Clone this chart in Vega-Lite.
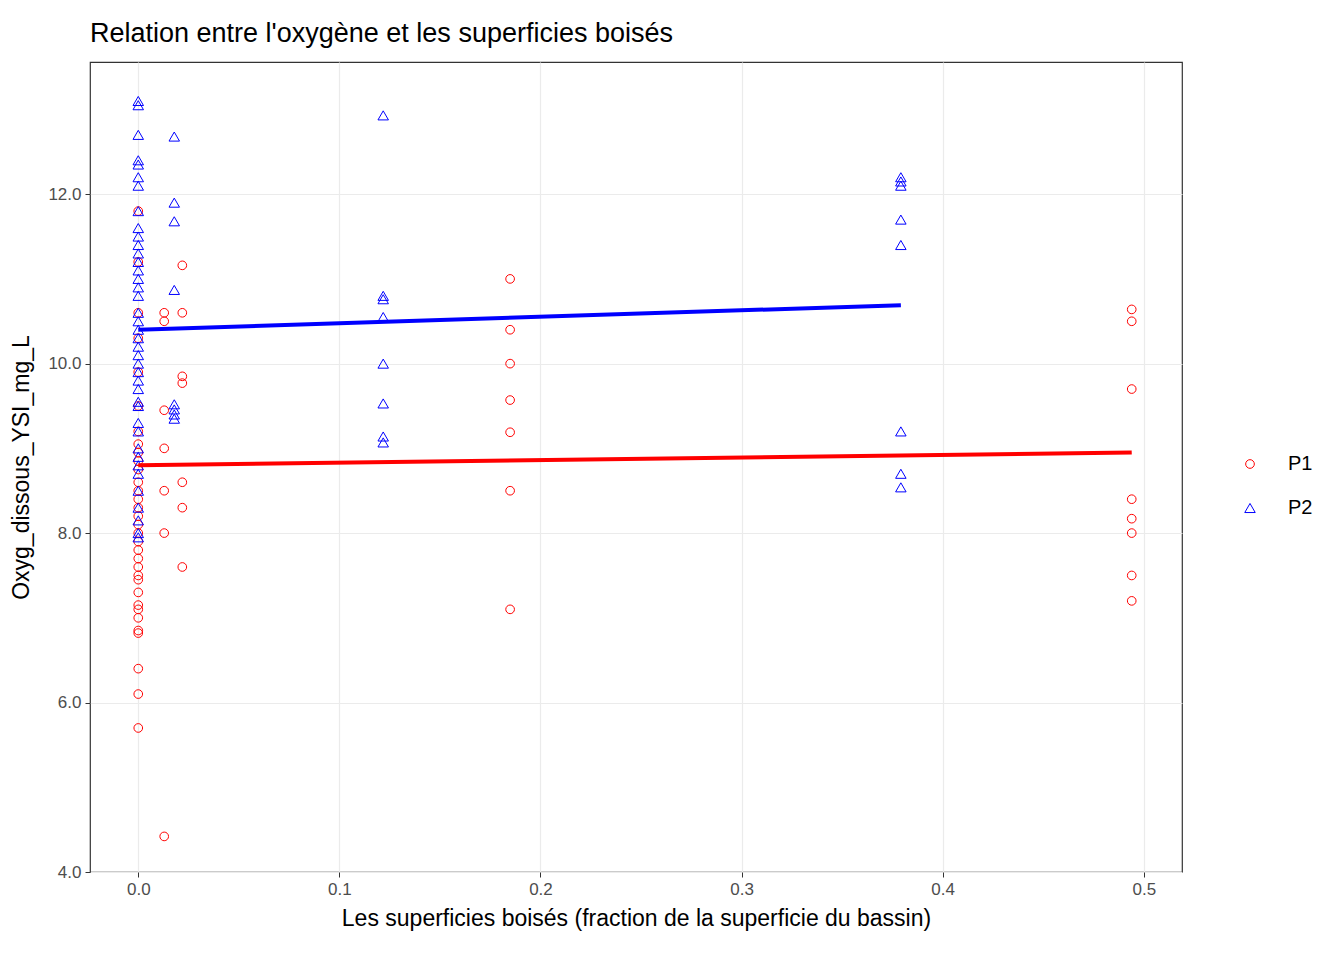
{
  "$schema": "https://vega.github.io/schema/vega-lite/v6.json",
  "autosize": "none",
  "width": 1092,
  "height": 810,
  "padding": {"left": 90, "top": 62, "right": 162, "bottom": 88},
  "background": "white",
  "title": {"text": "Relation entre l'oxygène et les superficies boisés", "anchor": "start", "frame": "group", "fontSize": 27, "font": "Arial", "fontWeight": "normal", "color": "black", "offset": 14},
  "datasets": {
    "pts": [
      {"x": 0, "y": 11.8, "g": "P1"}, {"x": 0, "y": 11.2, "g": "P1"}, {"x": 0, "y": 10.6, "g": "P1"}, {"x": 0, "y": 10.3, "g": "P1"}, {"x": 0, "y": 9.9, "g": "P1"}, {"x": 0, "y": 9.5, "g": "P1"}, {"x": 0, "y": 9.2, "g": "P1"},
      {"x": 0, "y": 9.05, "g": "P1"}, {"x": 0, "y": 8.95, "g": "P1"}, {"x": 0, "y": 8.85, "g": "P1"}, {"x": 0, "y": 8.75, "g": "P1"}, {"x": 0, "y": 8.6, "g": "P1"}, {"x": 0, "y": 8.5, "g": "P1"}, {"x": 0, "y": 8.4, "g": "P1"}, {"x": 0, "y": 8.3, "g": "P1"}, {"x": 0, "y": 8.2, "g": "P1"}, {"x": 0, "y": 8.1, "g": "P1"}, {"x": 0, "y": 8.0, "g": "P1"}, {"x": 0, "y": 7.9, "g": "P1"}, {"x": 0, "y": 7.8, "g": "P1"}, {"x": 0, "y": 7.7, "g": "P1"}, {"x": 0, "y": 7.6, "g": "P1"}, {"x": 0, "y": 7.5, "g": "P1"}, {"x": 0, "y": 7.45, "g": "P1"}, {"x": 0, "y": 7.3, "g": "P1"}, {"x": 0, "y": 7.15, "g": "P1"}, {"x": 0, "y": 7.1, "g": "P1"}, {"x": 0, "y": 7.0, "g": "P1"}, {"x": 0, "y": 6.85, "g": "P1"}, {"x": 0, "y": 6.82, "g": "P1"}, {"x": 0, "y": 6.4, "g": "P1"}, {"x": 0, "y": 6.1, "g": "P1"}, {"x": 0, "y": 5.7, "g": "P1"},
      {"x": 0.0129, "y": 10.6, "g": "P1"}, {"x": 0.0129, "y": 10.5, "g": "P1"}, {"x": 0.0129, "y": 9.45, "g": "P1"}, {"x": 0.0129, "y": 9.0, "g": "P1"}, {"x": 0.0129, "y": 8.5, "g": "P1"}, {"x": 0.0129, "y": 8.0, "g": "P1"}, {"x": 0.0129, "y": 4.42, "g": "P1"},
      {"x": 0.0219, "y": 11.16, "g": "P1"}, {"x": 0.0219, "y": 10.6, "g": "P1"}, {"x": 0.0219, "y": 9.85, "g": "P1"}, {"x": 0.0219, "y": 9.77, "g": "P1"}, {"x": 0.0219, "y": 8.6, "g": "P1"}, {"x": 0.0219, "y": 8.3, "g": "P1"}, {"x": 0.0219, "y": 7.6, "g": "P1"},
      {"x": 0.1849, "y": 11.0, "g": "P1"}, {"x": 0.1849, "y": 10.4, "g": "P1"}, {"x": 0.1849, "y": 10.0, "g": "P1"}, {"x": 0.1849, "y": 9.57, "g": "P1"}, {"x": 0.1849, "y": 9.19, "g": "P1"}, {"x": 0.1849, "y": 8.5, "g": "P1"}, {"x": 0.1849, "y": 7.1, "g": "P1"},
      {"x": 0.494, "y": 10.64, "g": "P1"}, {"x": 0.494, "y": 10.5, "g": "P1"}, {"x": 0.494, "y": 9.7, "g": "P1"}, {"x": 0.494, "y": 8.4, "g": "P1"}, {"x": 0.494, "y": 8.17, "g": "P1"}, {"x": 0.494, "y": 8.0, "g": "P1"}, {"x": 0.494, "y": 7.5, "g": "P1"}, {"x": 0.494, "y": 7.2, "g": "P1"},
      {"x": 0, "y": 13.1, "g": "P2"}, {"x": 0, "y": 13.05, "g": "P2"}, {"x": 0, "y": 12.7, "g": "P2"}, {"x": 0, "y": 12.4, "g": "P2"}, {"x": 0, "y": 12.35, "g": "P2"}, {"x": 0, "y": 12.2, "g": "P2"}, {"x": 0, "y": 12.1, "g": "P2"}, {"x": 0, "y": 11.8, "g": "P2"}, {"x": 0, "y": 11.6, "g": "P2"}, {"x": 0, "y": 11.5, "g": "P2"}, {"x": 0, "y": 11.4, "g": "P2"}, {"x": 0, "y": 11.3, "g": "P2"}, {"x": 0, "y": 11.2, "g": "P2"}, {"x": 0, "y": 11.1, "g": "P2"}, {"x": 0, "y": 11.0, "g": "P2"}, {"x": 0, "y": 10.9, "g": "P2"}, {"x": 0, "y": 10.8, "g": "P2"}, {"x": 0, "y": 10.6, "g": "P2"}, {"x": 0, "y": 10.5, "g": "P2"}, {"x": 0, "y": 10.4, "g": "P2"}, {"x": 0, "y": 10.3, "g": "P2"}, {"x": 0, "y": 10.2, "g": "P2"}, {"x": 0, "y": 10.1, "g": "P2"}, {"x": 0, "y": 10.0, "g": "P2"}, {"x": 0, "y": 9.9, "g": "P2"}, {"x": 0, "y": 9.8, "g": "P2"}, {"x": 0, "y": 9.7, "g": "P2"}, {"x": 0, "y": 9.55, "g": "P2"}, {"x": 0, "y": 9.5, "g": "P2"}, {"x": 0, "y": 9.3, "g": "P2"}, {"x": 0, "y": 9.2, "g": "P2"}, {"x": 0, "y": 9.0, "g": "P2"}, {"x": 0, "y": 8.9, "g": "P2"}, {"x": 0, "y": 8.8, "g": "P2"}, {"x": 0, "y": 8.7, "g": "P2"}, {"x": 0, "y": 8.5, "g": "P2"}, {"x": 0, "y": 8.3, "g": "P2"}, {"x": 0, "y": 8.15, "g": "P2"}, {"x": 0, "y": 8.0, "g": "P2"}, {"x": 0, "y": 7.95, "g": "P2"},
      {"x": 0.0179, "y": 12.68, "g": "P2"}, {"x": 0.0179, "y": 11.9, "g": "P2"}, {"x": 0.0179, "y": 11.68, "g": "P2"}, {"x": 0.0179, "y": 10.87, "g": "P2"}, {"x": 0.0179, "y": 9.52, "g": "P2"}, {"x": 0.0179, "y": 9.46, "g": "P2"}, {"x": 0.0179, "y": 9.4, "g": "P2"}, {"x": 0.0179, "y": 9.35, "g": "P2"},
      {"x": 0.1218, "y": 12.93, "g": "P2"}, {"x": 0.1218, "y": 10.8, "g": "P2"}, {"x": 0.1218, "y": 10.76, "g": "P2"}, {"x": 0.1218, "y": 10.55, "g": "P2"}, {"x": 0.1218, "y": 10.0, "g": "P2"}, {"x": 0.1218, "y": 9.53, "g": "P2"}, {"x": 0.1218, "y": 9.14, "g": "P2"}, {"x": 0.1218, "y": 9.07, "g": "P2"},
      {"x": 0.3792, "y": 12.2, "g": "P2"}, {"x": 0.3792, "y": 12.15, "g": "P2"}, {"x": 0.3792, "y": 12.1, "g": "P2"}, {"x": 0.3792, "y": 11.7, "g": "P2"}, {"x": 0.3792, "y": 11.4, "g": "P2"}, {"x": 0.3792, "y": 9.2, "g": "P2"}, {"x": 0.3792, "y": 8.7, "g": "P2"}, {"x": 0.3792, "y": 8.54, "g": "P2"}
    ],
    "fit": [
      {"x": 0, "y": 8.8, "g": "P1"}, {"x": 0.494, "y": 8.95, "g": "P1"},
      {"x": 0, "y": 10.4, "g": "P2"}, {"x": 0.3792, "y": 10.69, "g": "P2"}
    ]
  },
  "layer": [
    {
      "data": {"name": "pts"},
      "mark": {"type": "point", "filled": false, "strokeWidth": 1, "opacity": 1},
      "encoding": {
        "x": {"field": "x", "type": "quantitative", "scale": {"domain": [-0.024, 0.519], "nice": false, "zero": false},
          "axis": {"values": [0, 0.1, 0.2, 0.3, 0.4, 0.5], "format": ".1f", "title": "Les superficies boisés (fraction de la superficie du bassin)"}},
        "y": {"field": "y", "type": "quantitative", "scale": {"domain": [4, 13.56], "nice": false, "zero": false},
          "axis": {"values": [4, 6, 8, 10, 12], "title": "Oxyg_dissous_YSI_mg_L"}},
        "color": {"field": "g", "type": "nominal", "scale": {"domain": ["P1", "P2"], "range": ["red", "blue"]}, "legend": {"title": null}},
        "shape": {"field": "g", "type": "nominal", "scale": {"domain": ["P1", "P2"], "range": ["circle", "triangle-up"]}, "legend": {"title": null}},
        "size": {"field": "g", "type": "nominal", "scale": {"domain": ["P1", "P2"], "range": [75, 110]}, "legend": null}
      }
    },
    {
      "data": {"name": "fit"},
      "mark": {"type": "line", "strokeWidth": 4},
      "encoding": {
        "x": {"field": "x", "type": "quantitative"},
        "y": {"field": "y", "type": "quantitative"},
        "detail": {"field": "g"},
        "color": {"field": "g", "type": "nominal", "legend": null}
      }
    }
  ],
  "config": {
    "font": "Arial",
    "view": {"stroke": "#333333", "strokeWidth": 1.2},
    "axis": {
      "domain": false, "grid": true, "gridColor": "#ebebeb", "gridWidth": 1.2,
      "tickColor": "#333333", "tickSize": 5,
      "labelFont": "Arial", "labelFontSize": 17, "labelColor": "#4d4d4d", "labelPadding": 4,
      "titleFont": "Arial", "titleFontSize": 23, "titleFontWeight": "normal", "titleColor": "black"
    },
    "axisX": {"titlePadding": 10},
    "axisY": {"titlePadding": 14},
    "legend": {
      "orient": "none", "legendX": 1150, "legendY": 392,
      "labelFont": "Arial", "labelFontSize": 20, "labelColor": "black",
      "symbolStrokeWidth": 1, "symbolSize": 110, "rowPadding": 24, "labelOffset": 28
    }
  }
}
